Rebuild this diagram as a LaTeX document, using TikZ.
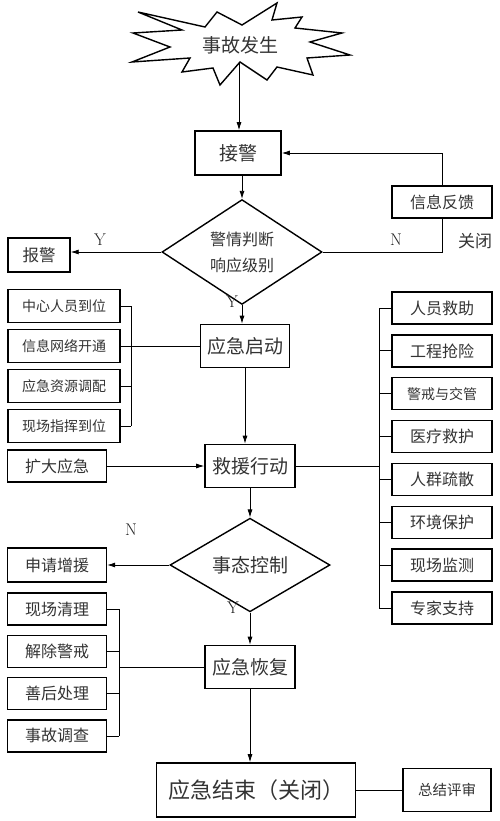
\documentclass[tikz,border=0pt]{standalone}
\usepackage{fontspec}
\newfontfamily\cjk{Noto Sans CJK SC}
\usetikzlibrary{arrows.meta}
\usetikzlibrary{shapes}

\begin{document}
\begin{tikzpicture}[x=1pt, y=-1pt,
	gross/.style={draw, line width=1.6pt, minimum width=89pt, minimum height=43pt, inner sep=0pt, text=black!80, font=\cjk\fontsize{19}{21}\selectfont},
	klein/.style={draw, line width=1.4pt, minimum width=99pt, minimum height=32pt, inner sep=0pt, text=black!80, font=\cjk\fontsize{16}{18}\selectfont},
	raute/.style={draw, diamond, line width=1.4pt, minimum width=160pt, minimum height=74pt, inner sep=0pt, text=black!80, align=center},
	pfeil/.style={-{Latex[length=8pt,width=5pt]}, line width=0.8pt},
	linie/.style={line width=0.8pt},
	marke/.style={text=black!85, font=\fontsize{17}{19}\selectfont}]
	\useasboundingbox (0,0) rectangle (500,821);
	%
	%Ereignis
	\draw[line width=1.4pt, fill=white] (138,12)--(205,27)--(217,12)--(242,25)--(277,3)--(272,20)--(302,17)--(295,28)--(342,33)--(310,42)--(350,55)--(307,58)--(313,75)--(277,67)--(267,80)--(240,62)--(220,85)--(213,68)--(182,72)--(190,58)--(132,62)--(170,47)--(133,33)--(182,30)--cycle;
	\node (ev) at (240,45) [text=black!80, font=\cjk\fontsize{19}{21}\selectfont] {事故发生};
	\coordinate (evfuss) at (239,62);
	%
	%Annahme
	\node (jiejing) at (238,153) [gross, minimum width=86pt, minimum height=44pt] {接警};
	%
	%Pfeil Ereignis-Annahme
	\draw[pfeil] (evfuss) -- (evfuss |- jiejing.north);
	%
	%Entscheidung
	\node (pd) at (242,252) [raute, minimum height=73pt, font=\cjk\fontsize{16}{26}\selectfont] {警情判断\\响应级别};
	%
	%Pfeil Annahme-Entscheidung
	\draw[pfeil] (pd.north |- jiejing.south) -- (pd.north);
	%
	%Alarm
	\node (baojing) at (39,255) [klein, minimum width=62pt, minimum height=34pt, font=\cjk\fontsize{16.5}{18}\selectfont] {报警};
	\draw[pfeil] (pd.west) -- (pd.west -| baojing.east);
	\node (y1) at (100,240) [marke] {Y};
	%
	%Rueckmeldung
	\node (fankui) at (442,202) [klein, minimum width=100pt] {信息反馈};
	\draw[linie] (pd.east) -| (fankui.south);
	\draw[pfeil] (fankui.north) |- (jiejing.east);
	\node (n1) at (396,240) [marke] {N};
	\node (guanbi) at (475,241) [text=black!80, font=\cjk\fontsize{17}{19}\selectfont] {关闭};
	%
	%Start
	\node (qidong) at (245,346) [gross] {应急启动};
	\draw[pfeil] (pd.south) -- (pd.south |- qidong.north);
	\node (y2) at (232,302) [marke] {Y};
	%
	%Links oben
	\coordinate (sl) at (131,0);
	\foreach \t [count=\i] in {中心人员到位, 信息网络开通, 应急资源调配, 现场指挥到位} {
		\node (l\i) at (64,266+40*\i) [klein, minimum width=112pt, minimum height=33pt, font=\cjk\fontsize{14}{16}\selectfont] {\t};
		\draw[linie] (l\i.east) -- (l\i.east -| sl);
	}
	\draw[linie] (l1.east -| sl) -- (l4.east -| sl);
	\draw[linie] (l2.east) -- (qidong.west);
	%
	%Rettung
	\node (jiuyuan) at (250,466) [gross, minimum width=90pt] {救援行动};
	\draw[pfeil] (qidong.south) -- (qidong.south |- jiuyuan.north);
	%
	%Erweiterung
	\node (kuoda) at (57,466) [klein] {扩大应急};
	\draw[pfeil] (kuoda.east) -- (jiuyuan.west);
	%
	%Rechts
	\coordinate (sr) at (379,0);
	\foreach \t/\g [count=\i] in {人员救助/16, 工程抢险/16, 警戒与交管/14, 医疗救护/16, 人群疏散/16, 环境保护/16, 现场监测/16, 专家支持/16} {
		\node (r\i) at (442,265.14+42.86*\i) [klein, minimum width=100pt, font=\cjk\fontsize{\g}{18}\selectfont] {\t};
		\draw[linie] (r\i.west) -- (r\i.west -| sr);
	}
	\draw[linie] (r1.west -| sr) -- (r8.west -| sr);
	\draw[linie] (jiuyuan.east) -- (jiuyuan.east -| sr);
	%
	%Kontrolle
	\node (kz) at (250,565) [raute, minimum height=75pt, font=\cjk\fontsize{19}{21}\selectfont] {事态控制};
	\draw[pfeil] (jiuyuan.south) -- (kz.north);
	%
	%Verstaerkung
	\node (zengyuan) at (57,565) [klein, minimum height=34pt] {申请增援};
	\draw[pfeil] (kz.west) -- (zengyuan.east);
	\node (n2) at (131,530) [marke] {N};
	%
	%Wiederherstellung
	\node (hf) at (250,667) [gross, minimum width=90pt] {应急恢复};
	\draw[pfeil] (kz.south) -- (hf.north);
	\node (y3) at (233,608) [marke] {Y};
	%
	%Links unten
	\coordinate (sl2) at (119,0);
	\foreach \t [count=\i] in {现场清理, 解除警戒, 善后处理, 事故调查} {
		\node (m\i) at (57,566.7+42.3*\i) [klein] {\t};
		\draw[linie] (m\i.east) -- (m\i.east -| sl2);
	}
	\draw[linie] (m1.east -| sl2) -- (m4.east -| sl2);
	\draw[linie] (hf.west) -- (hf.west -| sl2);
	%
	%Ende
	\node (jieshu) at (256,790) [gross, minimum width=199pt, minimum height=54pt, font=\cjk\fontsize{22}{24}\selectfont] {应急结束（关闭）};
	\draw[pfeil] (hf.south) -- (hf.south |- jieshu.north);
	%
	%Bewertung
	\node (zongjie) at (447,790) [klein, minimum width=88pt, minimum height=43pt, font=\cjk\fontsize{14.5}{16}\selectfont] {总结评审};
	\draw[linie] (jieshu.east) -- (zongjie.west);
\end{tikzpicture}
\end{document}
